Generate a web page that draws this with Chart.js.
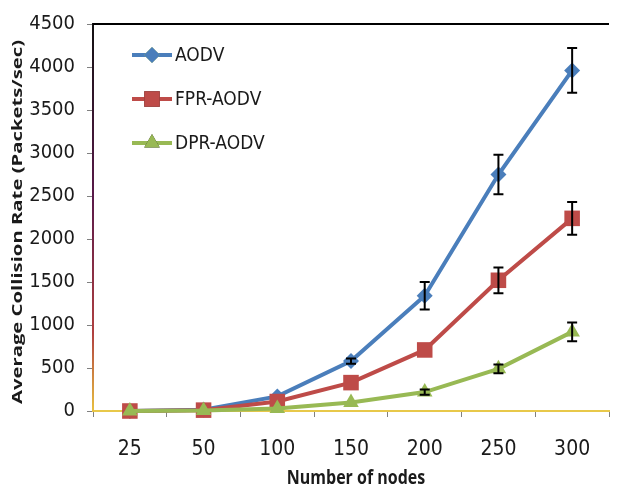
<!DOCTYPE html>
<html>
<head>
<meta charset="utf-8">
<script src="https://cdn.jsdelivr.net/npm/chart.js@4"></script>
<style>
  html, body { margin: 0; padding: 0; background: #fff; }
  #wrap { width: 620px; height: 489px; position: relative; }
</style>
</head>
<body>
<div id="wrap"><canvas id="chart" width="620" height="489"></canvas></div>
<script>
(function () {
    "use strict";

    // ---------- data ----------
    var nodes = ["25", "50", "100", "150", "200", "250", "300"];
    var aodv = [0, 15, 170, 580, 1340, 2750, 3960];
    var fpr = [0, 10, 110, 330, 710, 1520, 2240];
    var dpr = [0, 5, 30, 100, 220, 490, 920];
    var aodvErr = [0, 0, 0, 30, 160, 230, 260];
    var fprErr = [0, 0, 0, 0, 0, 150, 190];
    var dprErr = [0, 0, 0, 0, 30, 50, 110];
    var yTicks = [0, 500, 1000, 1500, 2000, 2500, 3000, 3500, 4000, 4500];

    var BLUE = "#4A7EBB", RED = "#BE4B48", GREEN = "#98B954";
    var FONT = "'Liberation Sans Narrow', 'DejaVu Sans Condensed', sans-serif";
    var TITLE_FONT = "'Open Sans', 'Noto Sans', sans-serif";

    var canvas = document.getElementById("chart");
    var ctx0 = canvas.getContext("2d");
    var axisGrad = ctx0.createLinearGradient(0, 22, 0, 411);
    axisGrad.addColorStop(0, "#111111");
    axisGrad.addColorStop(0.45, "#5a1a4a");
    axisGrad.addColorStop(0.8, "#b04040");
    axisGrad.addColorStop(1, "#e8c040");

    function series(label, data, color, style, radius, errs, order) {
        return {
            label: label,
            data: data,
            errors: errs,
            order: order,
            borderColor: color,
            backgroundColor: color,
            borderWidth: 4,
            pointStyle: style,
            pointRadius: radius,
            pointHoverRadius: radius,
            pointBorderWidth: 0,
            tension: 0,
            fill: false,
            clip: false
        };
    }

    // error bars, frame, legend and axis titles
    var extras = {
        id: "extras",
        afterDatasetsDraw: function (chart) {
            var c = chart.ctx;
            var y = chart.scales.y;
            c.save();
            c.strokeStyle = "#000";
            c.lineWidth = 2;
            chart.data.datasets.forEach(function (ds, i) {
                var meta = chart.getDatasetMeta(i);
                meta.data.forEach(function (pt, j) {
                    var e = ds.errors[j];
                    if (!e) return;
                    var v = ds.data[j];
                    var top = y.getPixelForValue(v + e);
                    var bot = y.getPixelForValue(v - e);
                    c.beginPath();
                    c.moveTo(pt.x, top); c.lineTo(pt.x, bot);
                    c.moveTo(pt.x - 5, top); c.lineTo(pt.x + 5, top);
                    c.moveTo(pt.x - 5, bot); c.lineTo(pt.x + 5, bot);
                    c.stroke();
                });
            });

            var a = chart.chartArea;
            c.strokeStyle = "#000";
            c.lineWidth = 2;
            c.beginPath();
            c.moveTo(a.left, a.top); c.lineTo(a.right, a.top);
            c.stroke();

            // legend
            var rows = [55, 99, 143];
            chart.data.datasets.forEach(function (ds, i) {
                var ly = rows[i];
                c.strokeStyle = ds.borderColor;
                c.lineWidth = 4;
                c.beginPath();
                c.moveTo(132, ly); c.lineTo(172, ly);
                c.stroke();
                Chart.helpers.drawPoint(c, {
                    pointStyle: ds.pointStyle,
                    radius: ds.pointRadius,
                    borderWidth: 0,
                    rotation: 0
                }, 152, ly);
                c.fillStyle = ds.backgroundColor;
                c.fill();
                c.fillStyle = "#1a1a1a";
                c.font = "19px " + FONT;
                c.textBaseline = "middle";
                c.textAlign = "left";
                c.fillText(ds.label, 175, ly + 1);
            });

            // axis titles
            c.fillStyle = "#1a1a1a";
            c.textAlign = "center";
            c.textBaseline = "middle";
            c.font = "bold 16px " + TITLE_FONT;
            c.save();
            c.translate(356, 479);
            c.scale(1, 1.2);
            c.fillText("Number of nodes", 0, 0);
            c.restore();

            var yTitle = "Average Collision Rate (Packets/sec)";
            c.font = "bold 15px " + TITLE_FONT;
            var w = c.measureText(yTitle).width;
            c.translate(18, 222);
            c.rotate(-Math.PI / 2);
            c.scale(364 / w, 1);
            c.fillText(yTitle, 0, 0);
            c.restore();
        }
    };

    new Chart(canvas, {
        type: "line",
        data: {
            labels: nodes,
            datasets: [
                series("AODV", aodv, BLUE, "rectRot", 8, aodvErr, 3),
                series("FPR-AODV", fpr, RED, "rect", 11, fprErr, 2),
                series("DPR-AODV", dpr, GREEN, "triangle", 9, dprErr, 1)
            ]
        },
        options: {
            responsive: false,
            animation: false,
            events: [],
            layout: { padding: { top: 22, right: 0, left: 0, bottom: 0 } },
            plugins: {
                legend: { display: false },
                tooltip: { enabled: false }
            },
            scales: {
                x: {
                    offset: true,
                    afterFit: function (s) { s.height = 78; },
                    grid: {
                        offset: true,
                        drawOnChartArea: false,
                        drawTicks: true,
                        tickLength: 6,
                        color: "#808080"
                    },
                    border: { color: "#E8C84A", width: 2 },
                    ticks: {
                        color: "#1a1a1a",
                        padding: 20,
                        font: { family: FONT, size: 21 }
                    }
                },
                y: {
                    min: 0,
                    max: 4500,
                    afterFit: function (s) { s.width = 93; },
                    afterBuildTicks: function (s) {
                        s.ticks = yTicks.map(function (v) { return { value: v }; });
                    },
                    grid: {
                        drawOnChartArea: false,
                        drawTicks: true,
                        tickLength: 6,
                        color: "#808080"
                    },
                    border: { color: axisGrad, width: 2 },
                    ticks: {
                        color: "#1a1a1a",
                        padding: 12,
                        font: { family: FONT, size: 20 },
                        callback: function (v) { return String(v); }
                    }
                }
            }
        },
        plugins: [extras]
    });
})();
</script>
</body>
</html>
